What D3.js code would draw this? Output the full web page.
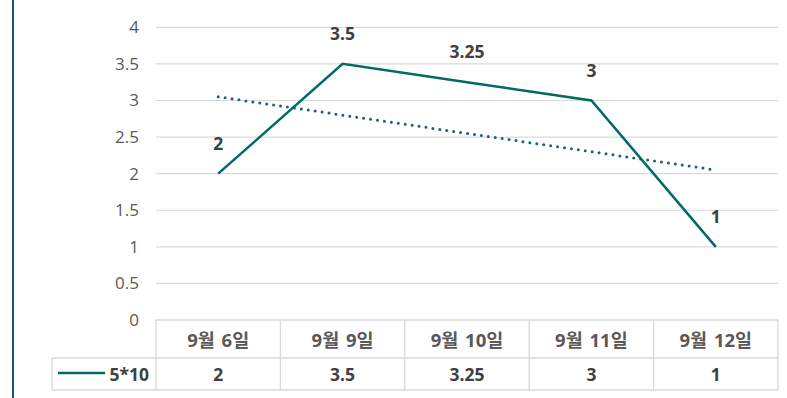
<!DOCTYPE html>
<html><head><meta charset="utf-8">
<script src="https://cdn.jsdelivr.net/npm/d3@7"></script>
<style>body{margin:0;background:#fff}svg{display:block}</style>
</head><body><svg id="c" width="787" height="398"></svg>
<script>
const categories = ["9월 6일","9월 9일","9월 10일","9월 11일","9월 12일"];
const seriesName = "5*10";
const values = [2, 3.5, 3.25, 3, 1];
const valueLabels = ["2","3.5","3.25","3","1"];
const yTicks = [0,0.5,1,1.5,2,2.5,3,3.5,4];

const svg = d3.select("#c");
const font = "'Open Sans','Noto Sans CJK KR',sans-serif";
const fsAxis = 17, fsBold = 17.5, fsHead = 18.5;
const L = 156, R = 778, T = 27.3, B = 320;
const x = d3.scaleBand().domain(categories).range([L, R]);
const y = d3.scaleLinear().domain([0, 4]).range([B, T]);
const cx = d => x(d) + x.bandwidth()/2;

// left border
svg.append("line").attr("x1",13).attr("x2",13).attr("y1",0).attr("y2",398)
  .attr("stroke","#1F4E79").attr("stroke-width",2);

// gridlines
svg.append("g").selectAll("line").data(yTicks.filter(t=>t>0)).join("line")
  .attr("x1",L).attr("x2",R).attr("y1",d=>y(d)).attr("y2",d=>y(d))
  .attr("stroke","#d9d9d9").attr("stroke-width",1.2);

// y axis labels
const yAxis = d3.axisLeft(y).tickValues(yTicks).tickSize(0).tickPadding(17).tickFormat(d3.format("~g"));
const ga = svg.append("g").attr("transform",`translate(${L},0)`).call(yAxis);
ga.select(".domain").remove();
ga.selectAll("text").attr("font-family",font).attr("font-size",fsAxis).attr("fill","#595959");

// trendline (linear regression, as Excel)
const xs = values.map((v,i)=>i+1);
const mx = d3.mean(xs), my = d3.mean(values);
const slope = d3.sum(xs.map((xi,i)=>(xi-mx)*(values[i]-my))) / d3.sum(xs.map(xi=>(xi-mx)**2));
const icpt = my - slope*mx;
const trend = [0, categories.length-1].map(i => ({c:categories[i], v: icpt + slope*(i+1)}));
svg.append("path").datum(trend)
  .attr("d", d3.line().x(d=>cx(d.c)).y(d=>y(d.v)))
  .attr("fill","none").attr("stroke","#1B5E80").attr("stroke-width",3)
  .attr("stroke-linecap","round").attr("stroke-dasharray","0 7");

// main line
const pts = categories.map((c,i)=>({c, v:values[i], l:valueLabels[i]}));
svg.append("path").datum(pts)
  .attr("d", d3.line().x(d=>cx(d.c)).y(d=>y(d.v)))
  .attr("fill","none").attr("stroke","#006B63").attr("stroke-width",2.5)
  .attr("stroke-linejoin","miter");

// data labels
svg.append("g").selectAll("text").data(pts).join("text")
  .attr("x",d=>cx(d.c)).attr("y",d=>y(d.v)-30).attr("dy","0.35em")
  .attr("text-anchor","middle").attr("font-family",font).attr("font-size",fsBold)
  .attr("font-weight","bold").attr("fill","#404040").text(d=>d.l);

// data table
const rowTop = B, rowMid = 358, rowBot = 390, legL = 52;
const tg = svg.append("g").attr("stroke","#d9d9d9").attr("stroke-width",1.3);
tg.append("line").attr("x1",L).attr("x2",R).attr("y1",rowTop).attr("y2",rowTop);
tg.append("line").attr("x1",legL).attr("x2",R).attr("y1",rowMid).attr("y2",rowMid);
tg.append("line").attr("x1",legL).attr("x2",R).attr("y1",rowBot).attr("y2",rowBot);
tg.append("line").attr("x1",legL).attr("x2",legL).attr("y1",rowMid).attr("y2",rowBot);
tg.selectAll(".v").data(categories.concat([null])).join("line")
  .attr("x1",(d,i)=>i<categories.length?x(d):R).attr("x2",(d,i)=>i<categories.length?x(d):R)
  .attr("y1",rowTop).attr("y2",rowBot);

svg.append("g").selectAll("text").data(categories).join("text")
  .attr("x",d=>cx(d)).attr("y",(rowTop+rowMid)/2+1.5).attr("dy","0.35em")
  .attr("text-anchor","middle").attr("font-family",font).attr("font-size",fsHead)
  .attr("word-spacing","2px")
  .attr("font-weight","bold").attr("fill","#595959").text(d=>d);

svg.append("g").selectAll("text").data(pts).join("text")
  .attr("x",d=>cx(d.c)).attr("y",(rowMid+rowBot)/2+1).attr("dy","0.35em")
  .attr("text-anchor","middle").attr("font-family",font).attr("font-size",fsBold)
  .attr("font-weight","bold").attr("fill","#404040").text(d=>d.l);

// legend key
svg.append("line").attr("x1",58).attr("x2",105).attr("y1",373).attr("y2",373)
  .attr("stroke","#006B63").attr("stroke-width",2.5);
svg.append("text").attr("x",149).attr("y",(rowMid+rowBot)/2+1).attr("dy","0.35em")
  .attr("text-anchor","end").attr("font-family",font).attr("font-size",fsBold)
  .attr("font-weight","bold").attr("fill","#404040").text(seriesName);
</script></body></html>
